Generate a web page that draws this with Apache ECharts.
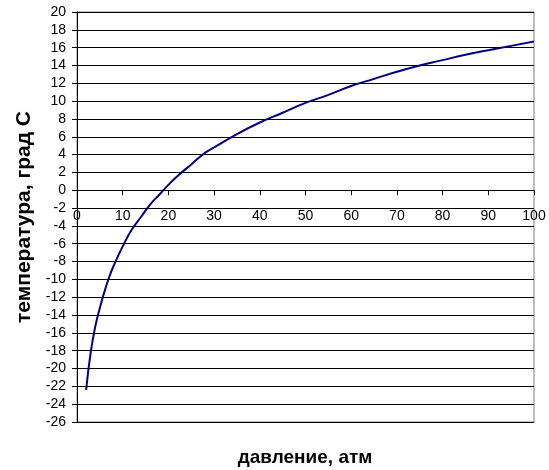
<!DOCTYPE html>
<html><head><meta charset="utf-8">
<script src="https://cdn.jsdelivr.net/npm/echarts@6/dist/echarts.min.js"></script>
<style>html,body{margin:0;padding:0;background:#fff}#c{width:549px;height:470px}</style>
</head><body><div id="c"></div>
<script>
var pressure = [2, 3, 4, 5, 6, 7, 8, 10, 12, 14, 16, 18, 20, 22, 25, 28, 30, 35, 40, 45, 50, 55, 60, 65, 70, 75, 80, 85, 90, 95, 100];
var temperature = [-22.4, -18.2, -15.3, -13.2, -11.4, -9.8, -8.5, -6.3, -4.4, -3.0, -1.6, -0.5, 0.6, 1.6, 2.9, 4.2, 4.8, 6.3, 7.6, 8.7, 9.8, 10.7, 11.7, 12.5, 13.3, 14.0, 14.6, 15.2, 15.7, 16.2, 16.7];
var xTitle = 'давление, атм';
var yTitle = 'температура, град С';
var yMin = -26, yMax = 20, yStep = 2;
var xMin = 0, xMax = 100, xStep = 10;
var FONT = 'Liberation Sans, Arial, sans-serif';
var GRID = {left: 77, right: 15, top: 12, bottom: 48};
var H = 470;
var plotH = H - GRID.top - GRID.bottom;
var zeroOffset = -plotH * (0 - yMin) / (yMax - yMin);
var chart = echarts.init(document.getElementById('c'), null, {renderer: 'canvas'});
chart.setOption({
  animation: false,
  backgroundColor: '#fff',
  grid: {left: GRID.left, right: GRID.right, top: GRID.top, bottom: GRID.bottom, show: true, borderColor: '#808080', borderWidth: 1},
  xAxis: {
    type: 'value', min: xMin, max: xMax, interval: xStep,
    offset: zeroOffset,
    axisLine: {show: true, onZero: false, lineStyle: {color: '#000', width: 1}},
    axisTick: {show: true, inside: false, length: 5, lineStyle: {color: '#000'}},
    axisLabel: {color: '#000', fontFamily: FONT, fontSize: 14, margin: 19, showMinLabel: true, showMaxLabel: true},
    splitLine: {show: false}
  },
  yAxis: {
    type: 'value', min: yMin, max: yMax, interval: yStep,
    name: yTitle, nameLocation: 'middle', nameGap: 38, nameRotate: 90,
    nameTextStyle: {color: '#000', fontFamily: FONT, fontSize: 21, fontWeight: 'bold'},
    axisLine: {show: true, onZero: false, lineStyle: {color: '#000', width: 1}},
    axisTick: {show: true, inside: false, length: 5, lineStyle: {color: '#000'}},
    axisLabel: {color: '#000', fontFamily: FONT, fontSize: 14, margin: 11, showMinLabel: true, showMaxLabel: true},
    splitLine: {show: true, lineStyle: {color: '#000', width: 1}}
  },
  graphic: [{
    type: 'text', x: 305, y: 458,
    style: {text: xTitle, fill: '#000', font: 'bold 19px Liberation Sans, Arial, sans-serif', textAlign: 'center', textVerticalAlign: 'middle', verticalAlign: 'middle'}
  }],
  series: [{
    type: 'line', data: pressure.map(function (p, i) { return [p, temperature[i]]; }),
    smooth: true, showSymbol: false, symbol: 'none',
    lineStyle: {color: '#000080', width: 2}
  }]
});
</script></body></html>
